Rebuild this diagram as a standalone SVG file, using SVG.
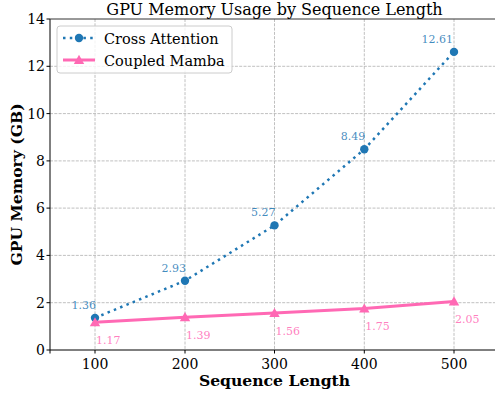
<svg xmlns="http://www.w3.org/2000/svg" width="495" height="393" viewBox="0 0 495 393">
<style>
text{font-family:"DejaVu Serif",serif;fill:#000}
.grid{stroke:#b0b0b0;stroke-width:0.8;stroke-dasharray:3 1.3;fill:none}
.tick{font-size:14px}
.lblB{font-size:11px;fill:#1f77b4;fill-opacity:0.85;text-anchor:end}
.lblP{font-size:11px;fill:#ff69b4;fill-opacity:0.85}
.ca{stroke:#1f77b4;stroke-width:2.5;stroke-dasharray:2.5 4.3;fill:none}
.cm{stroke:#ff69b4;stroke-width:3;fill:none}
</style>
<defs>
<marker id="dot" viewBox="-5 -5 10 10" markerWidth="10" markerHeight="10" markerUnits="userSpaceOnUse" refX="0" refY="0"><circle r="4.2" fill="#1f77b4"/></marker>
<marker id="tri" viewBox="-6 -6 12 12" markerWidth="12" markerHeight="12" markerUnits="userSpaceOnUse" refX="0" refY="0"><path d="M0,-5.2 L5.2,4 L-5.2,4 Z" fill="#ff69b4"/></marker>
</defs>
<rect width="495" height="393" fill="#fff"/>
<g id="grid">
<path class="grid" d="M95,19V350M185,19V350M274.5,19V350M364.3,19V350M454,19V350"/>
<path class="grid" d="M50,302.7H495M50,255.4H495M50,208.1H495M50,160.9H495M50,113.6H495M50,66.3H495"/>
</g>
<g id="axes" stroke="#000" stroke-width="1" fill="none">
<path d="M50,19V350H495"/>
<path d="M50,19H495" stroke="#333"/>
<path d="M50,350v3.5M95,350v3.5M185,350v3.5M274.5,350v3.5M364.3,350v3.5M454,350v3.5" />
<path d="M50,350h-3.5M50,302.7h-3.5M50,255.4h-3.5M50,208.1h-3.5M50,160.9h-3.5M50,113.6h-3.5M50,66.3h-3.5M50,19h-3.5"/>
</g>
<g id="xticks" class="tick" text-anchor="middle">
<text x="95" y="369">100</text>
<text x="185" y="369">200</text>
<text x="274.5" y="369">300</text>
<text x="364.3" y="369">400</text>
<text x="454" y="369">500</text>
</g>
<g id="yticks" class="tick" text-anchor="end">
<text x="45" y="355">0</text>
<text x="45" y="307.7">2</text>
<text x="45" y="260.4">4</text>
<text x="45" y="213.1">6</text>
<text x="45" y="165.9">8</text>
<text x="45" y="118.6">10</text>
<text x="45" y="71.3">12</text>
<text x="45" y="24">14</text>
</g>
<text id="title" x="274.5" y="15" text-anchor="middle" font-size="16">GPU Memory Usage by Sequence Length</text>
<text id="xlabel" x="274.5" y="386" text-anchor="middle" font-size="15.6" font-weight="bold">Sequence Length</text>
<text id="ylabel" transform="translate(22,184.5) rotate(-90)" text-anchor="middle" font-size="15.6" font-weight="bold">GPU Memory (GB)</text>
<g id="connectors">
<polyline id="cross-attention" class="ca" points="95,317.85 185,280.73 274.5,225.4 364.3,149.3 454,51.9" marker-start="url(#dot)" marker-mid="url(#dot)" marker-end="url(#dot)"/>
<polyline id="coupled-mamba" class="cm" points="95,322.34 185,317.14 274.5,313.12 364.3,308.6 454,301.53" marker-start="url(#tri)" marker-mid="url(#tri)" marker-end="url(#tri)"/>
</g>
<g id="labels-cross">
<text class="lblB" x="96" y="308.5">1.36</text>
<text class="lblB" x="186" y="271.5">2.93</text>
<text class="lblB" x="275.5" y="216">5.27</text>
<text class="lblB" x="365.3" y="140">8.49</text>
<text class="lblB" x="453" y="42.5">12.61</text>
</g>
<g id="labels-mamba">
<text class="lblP" x="96" y="344">1.17</text>
<text class="lblP" x="186" y="338.5">1.39</text>
<text class="lblP" x="275.5" y="334.5">1.56</text>
<text class="lblP" x="365.3" y="330">1.75</text>
<text class="lblP" x="455" y="323">2.05</text>
</g>
<g id="legend">
<rect x="57" y="26" width="175" height="47" rx="3" fill="#fff" fill-opacity="0.8" stroke="#cccccc" stroke-width="1"/>
<path class="ca" d="M63,38H95"/>
<circle cx="79" cy="38" r="4.2" fill="#1f77b4"/>
<path class="cm" d="M63,60H95"/>
<path d="M79,54.8 L84.2,64 L73.8,64 Z" fill="#ff69b4"/>
<text x="104" y="44" font-size="14.5">Cross Attention</text>
<text x="104" y="66" font-size="14.5">Coupled Mamba</text>
</g>
</svg>
